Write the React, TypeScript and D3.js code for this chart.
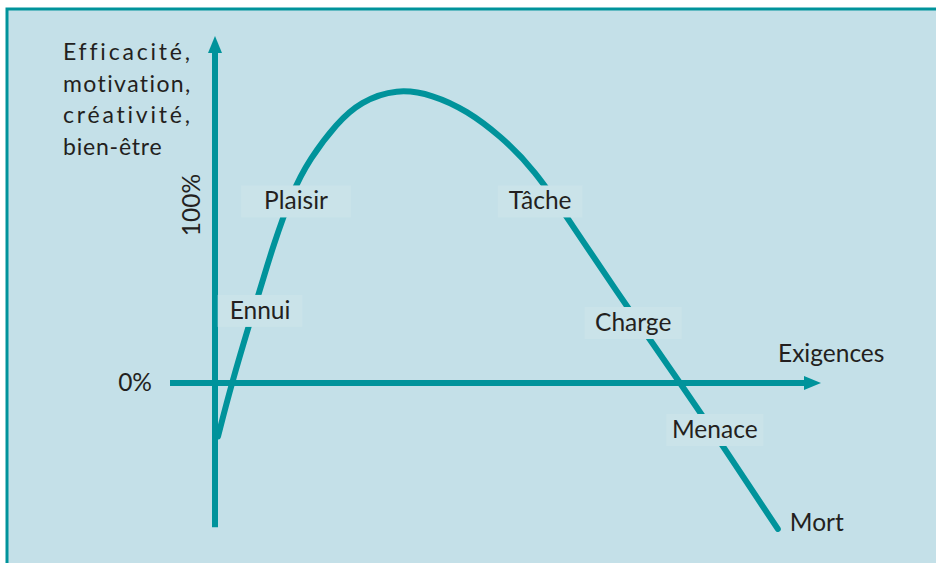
import React from 'react';
import * as d3 from 'd3';

// curve: x = demand (exigences), y = performance (%)
const curveX = [0.5, 2.8, 5.8, 8, 9.5, 12.8, 15.8, 20.3, 24.2, 30.3, 36.3, 42, 47.5, 53, 60.3, 65.8, 77.5, 82.8, 93.8];
const curveY = [-30, 0, 34, 58, 75, 107, 126, 146, 158, 165.5, 162, 153, 139, 121, 85, 57, 0, -26, -82];

const stageLabels = ['Ennui', 'Plaisir', 'Tâche', 'Charge', 'Menace'];
const stageX = [7.5, 13.5, 54.2, 69.7, 83.3];
const stageY = [40.5, 102, 102, 33.7, -26.4];

const titleLines = ['Efficacité,', 'motivation,', 'créativité,', 'bien-être'];
const titleSpacing = [2.8, 1.4, 2.8, 0.8];

const W = 936;
const H = 563;
const teal = '#00939b';
const panel = '#c4e0e8';
const ink = '#231f20';
const font = 'Lato, "Open Sans", sans-serif';
const fs = 24.5;

const App = () => {
  const x = d3.scaleLinear().domain([0, 100]).range([215, 815]);
  const y = d3.scaleLinear().domain([0, 100]).range([383, 205]);

  const pts = curveX.map((v, i) => [v, curveY[i]] as [number, number]);
  const line = d3.line<[number, number]>()
    .x(d => x(d[0]))
    .y(d => y(d[1]))
    .curve(d3.curveBasis);

  const axX0 = x(-7.5), axX1 = x(101);
  const axY0 = y(-81), axY1 = y(195);
  const head = 17;

  return (
    <svg width={W} height={H} style={{ position: 'absolute', left: 0, top: 0 }}>
      <rect x={0} y={0} width={W} height={H} fill="#fff" />
      <rect x={6} y={8} width={W - 6} height={H - 8} fill={panel} />
      <path d={`M7,${H}V9H${W}`} fill="none" stroke={teal} strokeWidth={3} />

      {/* title of y axis */}
      {titleLines.map((t, i) => (
        <text key={t} x={63} y={60 + i * 31.7} fontFamily={font} fontSize={23}
          letterSpacing={titleSpacing[i]} fill={ink}>{t}</text>
      ))}

      {/* axes */}
      <line x1={x(0)} x2={x(0)} y1={axY0} y2={axY1 + head} stroke={teal} strokeWidth={6} />
      <path d={`M${x(0)},${axY1}L${x(0) - 7},${axY1 + head}L${x(0) + 7},${axY1 + head}Z`} fill={teal} />
      <line x1={axX0} x2={axX1 - head} y1={y(0)} y2={y(0)} stroke={teal} strokeWidth={6} />
      <path d={`M${axX1},${y(0)}L${axX1 - head},${y(0) - 7}L${axX1 - head},${y(0) + 7}Z`} fill={teal} />

      <text x={152} y={y(0) + 8} textAnchor="end" fontFamily={font} fontSize={fs} fill={ink}>0%</text>
      <text transform={`translate(${x(0) - 15},${y(100)}) rotate(-90)`} textAnchor="middle"
        fontFamily={font} fontSize={fs} fill={ink}>100%</text>
      <text x={778} y={y(0) - 21} fontFamily={font} fontSize={fs} fill={ink}>Exigences</text>

      {/* curve */}
      <path d={line(pts) || ''} fill="none" stroke={teal} strokeWidth={6} strokeLinecap="round" />

      {/* stage labels on light boxes */}
      {stageLabels.map((s, i) => {
        const cx = x(stageX[i]);
        const cy = y(stageY[i]);
        const w = s.length * 12.5 + 22;
        return (
          <g key={s}>
            <rect x={cx - w / 2} y={cy - 16} width={w} height={32} fill="#cae3e9" />
            <text x={cx} y={cy + 8} textAnchor="middle" fontFamily={font} fontSize={fs} fill={ink}>{s}</text>
          </g>
        );
      })}
      <text x={x(curveX[curveX.length - 1]) + 12} y={y(curveY[curveY.length - 1]) + 2}
        fontFamily={font} fontSize={fs} fill={ink}>Mort</text>
    </svg>
  );
};

export default App;
